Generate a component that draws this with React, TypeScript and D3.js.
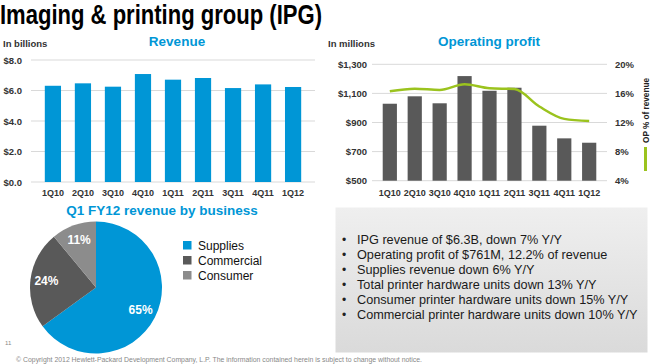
import * as d3 from 'd3'
import { useEffect, useRef } from 'react'

const quarters = ['1Q10', '2Q10', '3Q10', '4Q10', '1Q11', '2Q11', '3Q11', '4Q11', '1Q12']
const revenue = [6.31, 6.47, 6.25, 7.08, 6.71, 6.82, 6.16, 6.4, 6.23]
const opProfit = [1029, 1080, 1032, 1219, 1118, 1139, 878, 791, 761]
const opPct = [16.3, 16.65, 16.47, 17.25, 16.7, 16.6, 14.2, 12.5, 12.2]
const revTicks = [0, 2, 4, 6, 8]
const opTicks = [500, 700, 900, 1100, 1300]
const pctTicks = [4, 8, 12, 16, 20]

const pieLabels = ['Supplies', 'Commercial', 'Consumer']
const pieValues = [65, 24, 11]

const bullets = [
    'IPG revenue of $6.3B, down 7% Y/Y',
    'Operating profit of $761M, 12.2% of revenue',
    'Supplies revenue down 6% Y/Y',
    'Total printer hardware units down 13% Y/Y',
    'Consumer printer hardware units down 15% Y/Y',
    'Commercial printer hardware units down 10% Y/Y',
]

const FONT = 'Liberation Sans, Arial, Helvetica, sans-serif'
const BLUE = '#0096d6'
const DARK = '#595959'
const GREY = '#8c8c8c'
const GREEN = '#9bc31e'

const App = () => {
    const ref = useRef<SVGSVGElement>(null)

    useEffect(() => {
        const svg = d3.select(ref.current)
        svg.selectAll('*').remove()
        svg.style('font-family', FONT)

        // titolo
        svg.append('text')
            .attr('x', 0).attr('y', 24)
            .attr('font-family', 'Liberation Sans Narrow, Arial Narrow, ' + FONT)
            .attr('font-size', 27).attr('font-weight', 'bold')
            .attr('textLength', 322).attr('lengthAdjust', 'spacingAndGlyphs')
            .text('Imaging & printing group (IPG)')

        // --- Revenue ---
        const rx = d3.scaleBand().domain(quarters).range([31, 315]).padding(0.46)
        const ry = d3.scaleLinear().domain([0, 8]).range([182, 60])
        const rev = svg.append('g')

        rev.selectAll('.grid').data(revTicks).enter().append('line')
            .attr('x1', 31).attr('x2', 315)
            .attr('y1', d => ry(d)).attr('y2', d => ry(d))
            .attr('stroke', '#d9d9d9').attr('stroke-width', 1)

        rev.selectAll('.bar').data(revenue).enter().append('rect')
            .attr('x', (d, i) => rx(quarters[i])!)
            .attr('y', d => ry(d))
            .attr('width', rx.bandwidth())
            .attr('height', d => ry(0) - ry(d))
            .attr('fill', BLUE)

        rev.selectAll('.yl').data(revTicks).enter().append('text')
            .attr('x', 22).attr('y', d => ry(d) + 3.5)
            .attr('text-anchor', 'end').attr('font-size', 9.5).attr('font-weight', 'bold').attr('fill', '#333')
            .text(d => '$' + d.toFixed(1))

        rev.selectAll('.xl').data(quarters).enter().append('text')
            .attr('x', d => rx(d)! + rx.bandwidth() / 2).attr('y', 196)
            .attr('text-anchor', 'middle').attr('font-size', 9).attr('font-weight', 'bold').attr('fill', '#333')
            .text(d => d)

        rev.append('text').attr('x', 3).attr('y', 47).attr('font-size', 9.5).attr('font-weight', 'bold').attr('fill', '#333').text('In billions')
        rev.append('text').attr('x', 177).attr('y', 46).attr('text-anchor', 'middle')
            .attr('font-size', 13.5).attr('font-weight', 'bold').attr('fill', BLUE).text('Revenue')

        // --- Operating profit ---
        const ox = d3.scaleBand().domain(quarters).range([372, 607]).padding(0.43)
        const oy = d3.scaleLinear().domain([500, 1300]).range([180.7, 64.3])
        const py = d3.scaleLinear().domain([4, 20]).range([180.7, 64.3])
        const op = svg.append('g')

        op.selectAll('.grid').data(opTicks).enter().append('line')
            .attr('x1', 372).attr('x2', 607)
            .attr('y1', d => oy(d)).attr('y2', d => oy(d))
            .attr('stroke', '#d9d9d9').attr('stroke-width', 1)

        op.selectAll('.bar').data(opProfit).enter().append('rect')
            .attr('x', (d, i) => ox(quarters[i])!)
            .attr('y', d => oy(d))
            .attr('width', ox.bandwidth())
            .attr('height', d => oy(500) - oy(d))
            .attr('fill', DARK)

        const line = d3.line<number>()
            .x((d, i) => ox(quarters[i])! + ox.bandwidth() / 2)
            .y(d => py(d))
            .curve(d3.curveMonotoneX)
        op.append('path').datum(opPct)
            .attr('fill', 'none').attr('stroke', GREEN).attr('stroke-width', 2.5)
            .attr('d', line)

        op.selectAll('.yl').data(opTicks).enter().append('text')
            .attr('x', 367).attr('y', d => oy(d) + 3.5)
            .attr('text-anchor', 'end').attr('font-size', 9.5).attr('font-weight', 'bold').attr('fill', '#333')
            .text(d => '$' + d3.format(',')(d))

        op.selectAll('.pl').data(pctTicks).enter().append('text')
            .attr('x', 615).attr('y', d => py(d) + 3.5)
            .attr('font-size', 9.5).attr('font-weight', 'bold').attr('fill', '#333')
            .text(d => d + '%')

        op.selectAll('.xl').data(quarters).enter().append('text')
            .attr('x', d => ox(d)! + ox.bandwidth() / 2).attr('y', 195.5)
            .attr('text-anchor', 'middle').attr('font-size', 9).attr('font-weight', 'bold').attr('fill', '#333')
            .text(d => d)

        op.append('text').attr('x', 328).attr('y', 47).attr('font-size', 9.5).attr('font-weight', 'bold').attr('fill', '#333').text('In millions')
        op.append('text').attr('x', 489).attr('y', 46).attr('text-anchor', 'middle')
            .attr('font-size', 13.5).attr('font-weight', 'bold').attr('fill', BLUE).text('Operating profit')

        op.append('text')
            .attr('transform', 'translate(648.5,143) rotate(-90)')
            .attr('font-size', 9.5).attr('font-weight', 'bold').attr('fill', '#222')
            .attr('textLength', 65).attr('lengthAdjust', 'spacingAndGlyphs')
            .text('OP % of revenue')
        op.append('line').attr('x1', 645.5).attr('x2', 645.5).attr('y1', 147).attr('y2', 171)
            .attr('stroke', GREEN).attr('stroke-width', 3)

        // --- box con bullet ---
        const defs = svg.append('defs')
        const grad = defs.append('linearGradient').attr('id', 'boxg').attr('x1', 0).attr('y1', 0).attr('x2', 0).attr('y2', 1)
        grad.append('stop').attr('offset', '0%').attr('stop-color', '#efefef')
        grad.append('stop').attr('offset', '100%').attr('stop-color', '#dadada')

        svg.append('rect').attr('x', 335.5).attr('y', 207.5).attr('width', 312).attr('height', 145)
            .attr('fill', 'url(#boxg)')

        const bl = svg.append('g')
        bullets.forEach((b, i) => {
            bl.append('text').attr('x', 342).attr('y', 243.5 + i * 15).attr('font-size', 12).attr('fill', '#222').text('•')
            bl.append('text').attr('x', 357).attr('y', 244 + i * 15).attr('font-size', 12.7).attr('fill', '#1a1a1a').text(b)
        })

        // --- pie ---
        svg.append('text').attr('x', 162).attr('y', 215).attr('text-anchor', 'middle')
            .attr('font-size', 13.5).attr('font-weight', 'bold').attr('fill', BLUE).text('Q1 FY12 revenue by business')

        const colors = [BLUE, DARK, GREY]
        const pie = d3.pie<number>().sort(null).value(d => d)
        const arcs = pie(pieValues)
        const arc = d3.arc<d3.PieArcDatum<number>>().innerRadius(0).outerRadius(66)
        const labelArc = d3.arc<d3.PieArcDatum<number>>().innerRadius(50).outerRadius(50)
        const pg = svg.append('g').attr('transform', 'translate(96,287.5)')
        pg.selectAll('path').data(arcs).enter().append('path')
            .attr('d', arc).attr('fill', (d, i) => colors[i])
        pg.selectAll('.lbl').data(arcs).enter().append('text')
            .attr('transform', d => `translate(${labelArc.centroid(d)})`)
            .attr('dy', 4).attr('text-anchor', 'middle')
            .attr('font-size', 12).attr('font-weight', 'bold').attr('fill', '#fff')
            .text(d => d.data + '%')

        const lg = svg.append('g')
        pieLabels.forEach((l, i) => {
            lg.append('rect').attr('x', 183).attr('y', 241 + i * 15).attr('width', 8.5).attr('height', 8.5).attr('fill', colors[i])
            lg.append('text').attr('x', 198).attr('y', 249.5 + i * 15).attr('font-size', 12).attr('fill', '#111').text(l)
        })

        // footer
        svg.append('text').attr('x', 5).attr('y', 345).attr('font-size', 6).attr('fill', '#888').text('11')
        svg.append('text').attr('x', 16).attr('y', 361.5).attr('font-size', 7).attr('fill', '#888')
            .attr('textLength', 406).attr('lengthAdjust', 'spacingAndGlyphs')
            .text('© Copyright 2012 Hewlett-Packard Development Company, L.P. The information contained herein is subject to change without notice.')
    }, [])

    return (
        <svg ref={ref} width={650} height={364}
            style={{ position: 'absolute', left: 0, top: 0, background: '#fff' }} />
    )
}

export default App
